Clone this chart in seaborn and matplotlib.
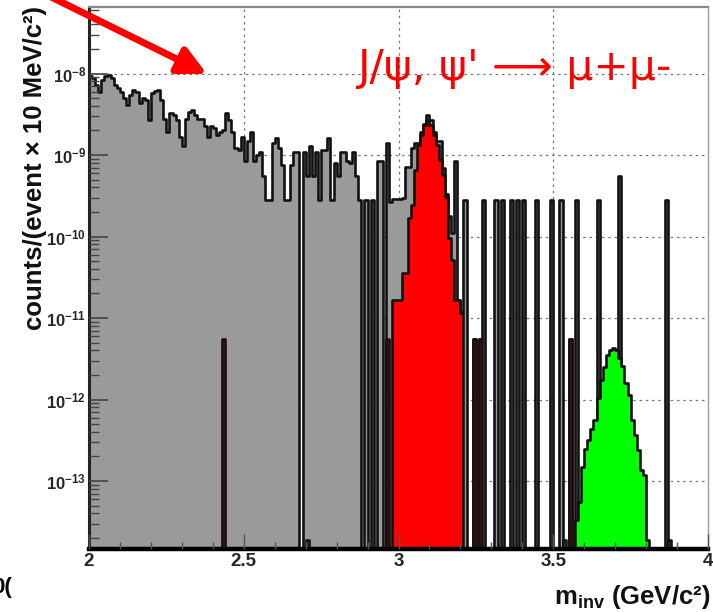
import numpy as np
import pandas as pd
import matplotlib
matplotlib.use("Agg")
import matplotlib.pyplot as plt
import seaborn as sns
from matplotlib.ticker import LogLocator, FixedLocator, FuncFormatter, MultipleLocator

# ---------------- data (values in units of 1e-10 counts/(event x 10 MeV/c^2)) -------------
MASS_MIN, MASS_MAX, N_BINS = 2.0, 4.0, 200
UNIT = 1e-10

# total (all pairs) per 10 MeV bin, bins from 2.00 to 4.00 GeV/c^2
total_e10 = [
    93, 88, 72, 59, 83, 93, 95, 88, 72, 66,
    59, 50, 41, 55, 63, 59, 43.5, 50, 47, 27,
    58, 61, 63, 47, 28, 19, 33, 31, 27, 16.6,
    13, 28, 34, 36, 31, 28, 28, 23, 16.6, 23,
    21.5, 17.5, 19, 20, 33, 27, 19, 12.2, 11.5, 16.6,
    8.4, 15, 19, 8.4, 10, 11, 5.6, 2.8, 2.8, 14,
    16, 12.2, 7.6, 2.8, 2.8, 7.6, 11, 11, 0, 11,
    5.6, 13, 5.6, 11, 2.8, 11.5, 11.5, 16, 2.8, 8,
    5.6, 11, 11, 8.4, 8, 11, 5.6, 2.8, 0, 2.8,
    0, 2.8, 0, 8.4, 8.4, 0, 14, 2.65, 2.9, 2.9,
    2.9, 3.0, 7.1, 7.1, 12.2, 14, 14, 19, 24, 31,
    27, 19, 15, 15, 7, 3.3, 1.8, 1.1, 8.4, 0.166,
    0.12, 2.8, 0, 0, 0.056, 0, 0.056, 2.8, 0, 0,
    0, 2.8, 0, 2.8, 0, 0, 2.8, 0, 2.8, 0,
    2.8, 0, 0, 0, 2.8, 0, 0, 0, 0, 2.8,
    0, 0, 2.8, 0, 0, 0.056, 0, 2.8, 0, 0,
    0, 0, 0, 0, 2.8, 0, 0, 0, 0, 0,
    0, 5.6, 0, 0, 0, 0, 0, 0, 0, 0,
    0, 0, 0, 0, 0, 0, 2.8, 0, 0, 0,
    0, 0, 0, 0, 0, 0, 0, 0, 0, 0,
]

# J/psi -> mu+mu- (bin lower edges in GeV/c^2, values in 1e-10)
jpsi_mass = [2.43, 2.96, 2.98, 2.99, 3.00, 3.01, 3.02, 3.03, 3.04, 3.05,
             3.06, 3.07, 3.08, 3.09, 3.10, 3.11, 3.12, 3.13, 3.14, 3.15,
             3.16, 3.17, 3.18, 3.19, 3.20, 3.24, 3.26, 3.55]
jpsi_e10 = [0.056, 0.056, 0.166, 0.166, 0.166, 0.36, 0.36, 1.7, 2.45, 6.5,
            13.3, 17.6, 23.4, 26.9, 23.4, 17.6, 13.3, 8.7, 5.7, 3.05,
            0.95, 0.51, 0.166, 0.166, 0.115, 0.056, 0.056, 0.056]

# psi' -> mu+mu-
psi2_mass = [2.70, 3.53, 3.57, 3.58, 3.59, 3.60, 3.61, 3.62, 3.63, 3.64,
             3.65, 3.66, 3.67, 3.68, 3.69, 3.70, 3.71, 3.72, 3.73, 3.74,
             3.75, 3.76, 3.77, 3.78, 3.79, 3.80, 3.87]
psi2_e10 = [0.00019, 0.00019, 0.00033, 0.00055, 0.00148, 0.0025, 0.0032, 0.0043, 0.0056, 0.0105,
            0.0174, 0.025, 0.035, 0.041, 0.043, 0.041, 0.032, 0.026, 0.0158, 0.0114,
            0.0056, 0.0037, 0.0024, 0.00135, 0.00117, 0.00019, 0.00019]

x_ticks = [2, 2.5, 3, 3.5, 4]
title_text = "J/ψ, ψ' ⟶ μ+μ-"
ylabel_text = "counts/(event × 10 MeV/c²)"

# ---------------- figure -----------------
sns.set_theme(style="white")
plt.rcParams['font.family'] = ['Liberation Sans', 'DejaVu Sans']
plt.rcParams['mathtext.fontset'] = 'custom'
plt.rcParams['mathtext.rm'] = 'Liberation Sans'
plt.rcParams['mathtext.bf'] = 'Liberation Sans:bold'
plt.rcParams['mathtext.it'] = 'Liberation Sans:italic'

W, H = 713, 612
fig = plt.figure(figsize=(W / 100, H / 100), dpi=100)
ax = fig.add_axes([89 / W, 1 - 549 / H, (708 - 89) / W, (549 - 7) / H])

edges = list(np.linspace(MASS_MIN, MASS_MAX, N_BINS + 1))
half = (edges[1] - edges[0]) / 2
centers = [e + half for e in edges[:-1]]

df_total = pd.DataFrame({"mass": centers, "w": np.array(total_e10) * UNIT})
df_jpsi = pd.DataFrame({"mass": np.array(jpsi_mass) + half, "w": np.array(jpsi_e10) * UNIT})
df_psi2 = pd.DataFrame({"mass": np.array(psi2_mass) + half, "w": np.array(psi2_e10) * UNIT})

common = dict(x="mass", weights="w", bins=edges, element="step", fill=True,
              edgecolor="#111111", linewidth=1.9, alpha=1, ax=ax)
sns.histplot(data=df_total, color="#9a9a9a", **common)
sns.histplot(data=df_jpsi, color="#ff0000", **common)
sns.histplot(data=df_psi2, color="#00ff00", **common)

ax.set_yscale("log")
ax.set_xlim(MASS_MIN, MASS_MAX)
ax.set_ylim(1.465e-14, 6.55e-8)
ax.set_xlabel("")
ax.set_ylabel("")

# grid below the histograms
for xv in x_ticks[1:-1]:
    ax.axvline(xv, color="#777777", lw=0.9, ls=(0, (2, 3)), zorder=0.5)
for e in range(-13, -7):
    ax.axhline(10.0 ** e, color="#777777", lw=0.9, ls=(0, (2, 3)), zorder=0.5)
ax.set_axisbelow(False)
ax.grid(False)

# ticks
ax.yaxis.set_major_locator(LogLocator(base=10, numticks=30))
ax.yaxis.set_minor_locator(LogLocator(base=10, subs=np.arange(2, 10), numticks=30))
ax.yaxis.set_major_formatter(FuncFormatter(lambda v, p: r"$\mathbf{10^{%d}}$" % round(np.log10(v))))
ax.xaxis.set_major_locator(FixedLocator(x_ticks))
ax.xaxis.set_minor_locator(MultipleLocator(0.1))
ax.xaxis.set_major_formatter(FuncFormatter(lambda v, p: "%g" % v))

ax.tick_params(axis="y", which="major", direction="in", length=14, width=1.2,
               color="#444444", labelsize=12, pad=2, left=True, right=False)
ax.tick_params(axis="y", which="minor", direction="in", length=7, width=1.0,
               color="#444444", left=True, right=False)
ax.tick_params(axis="x", which="major", direction="in", length=11, width=1.0,
               color="#555555", labelsize=13.5, pad=3, bottom=True, top=False)
ax.tick_params(axis="x", which="minor", direction="in", length=5, width=1.0,
               color="#555555", bottom=True, top=False)
for lab in ax.get_xticklabels() + ax.get_yticklabels():
    lab.set_fontweight("bold")

# spines
ax.spines["left"].set_color("#222222")
ax.spines["left"].set_linewidth(2.2)
ax.spines["bottom"].set_color("black")
ax.spines["bottom"].set_linewidth(3.2)
ax.spines["top"].set_color("#888888")
ax.spines["top"].set_linewidth(1.6)
ax.spines["right"].set_color("#999999")
ax.spines["right"].set_linewidth(1.0)

# texts
fig.text(35 / W, 1 - 168 / H, ylabel_text, rotation=90, ha="center", va="center",
         fontsize=18.5, fontweight="bold", color="#111111")
fig.text(710 / W, 1 - 597 / H, r"$\mathbf{m_{inv}}$ (GeV/c²)", ha="right", va="center",
         fontsize=18.5, fontweight="bold", color="#111111")
fig.text(357 / W, 1 - 68 / H, title_text, ha="left", va="center", fontsize=30.5,
         color="#ff0000", family=["DejaVu Sans"])
fig.text(12 / W, 1 - 587 / H, "0(", ha="right", va="center", fontsize=16,
         fontweight="bold", color="black")

# red arrow from the top-left corner
ax.annotate("", xy=(207, H - 74), xycoords="figure pixels",
            xytext=(37, H + 10), textcoords="figure pixels",
            arrowprops=dict(arrowstyle="-|>", color="#ff0000", lw=5,
                            mutation_scale=42, shrinkA=0, shrinkB=0),
            annotation_clip=False)

fig.savefig("out.png", dpi=100)
